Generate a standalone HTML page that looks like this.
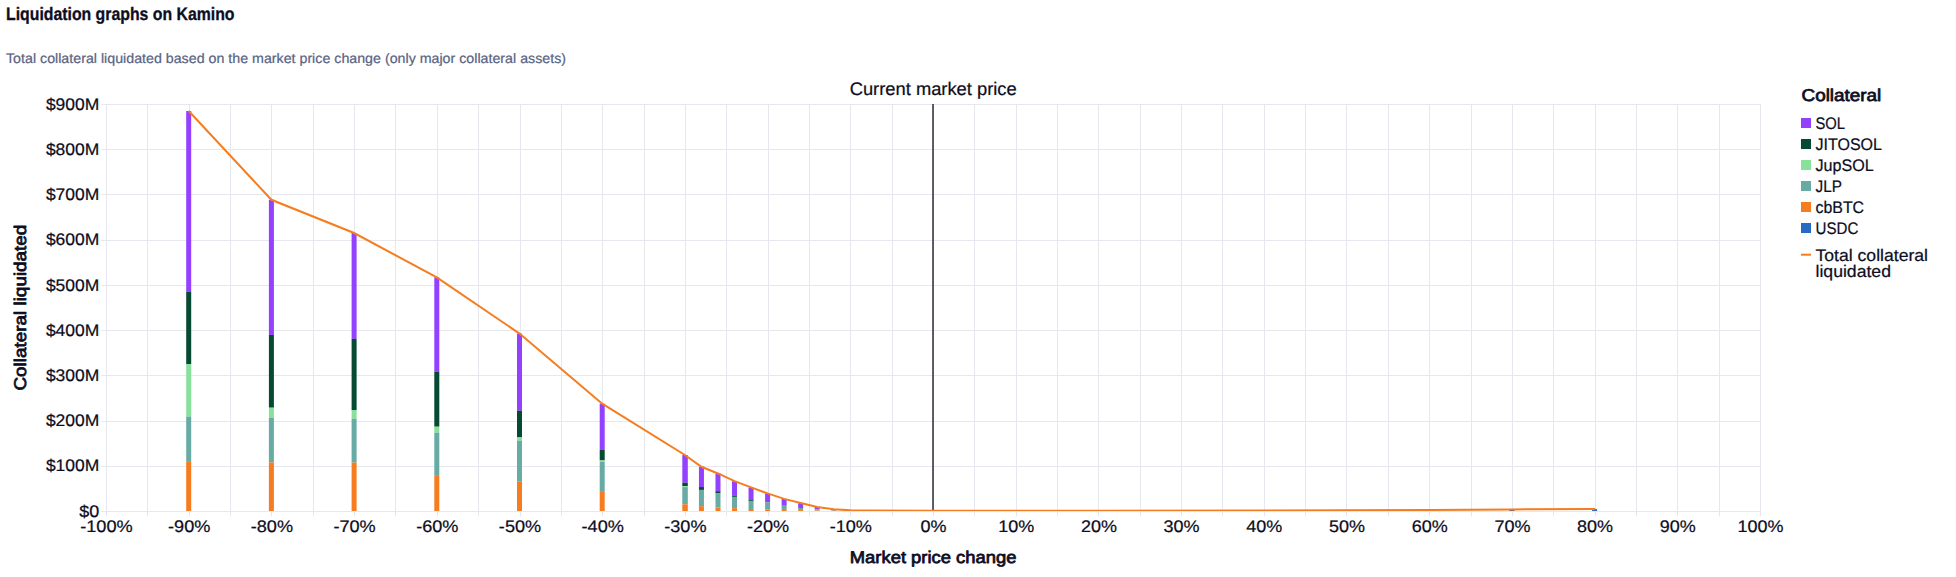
<!DOCTYPE html>
<html lang="en"><head><meta charset="utf-8"><title>Liquidation graphs on Kamino</title>
<style>
html,body{margin:0;padding:0;background:#fff;}
body{width:1956px;height:577px;overflow:hidden;font-family:"Liberation Sans",sans-serif;}
svg{display:block;position:absolute;left:0;top:0}
text{font-family:"Liberation Sans",sans-serif;text-rendering:geometricPrecision;fill:#0D0D22;stroke:#0D0D22;stroke-width:0.22px}
.ax{font-size:16.7px}
.at{font-size:17px}
.lg{font-size:16.8px}
.lt{font-size:16.8px}
.b{font-weight:bold;stroke-width:0.3px}
.sb{stroke-width:0.75px;stroke-linejoin:round}
</style></head><body>
<svg width="1956" height="577" viewBox="0 0 1956 577">

<text class="b" x="6" y="19.7" font-size="18" textLength="228.5" lengthAdjust="spacingAndGlyphs">Liquidation graphs on Kamino</text>
<text x="6" y="62.7" font-size="13.8" style="fill:#5A6483;stroke:#5A6483" textLength="560" lengthAdjust="spacingAndGlyphs">Total collateral liquidated based on the market price change (only major collateral assets)</text>
<path d="M106.5 104V516.5M147.5 104V516.5M189.5 104V516.5M230.5 104V516.5M271.5 104V516.5M313.5 104V516.5M354.5 104V516.5M395.5 104V516.5M437.5 104V516.5M478.5 104V516.5M520.5 104V516.5M561.5 104V516.5M602.5 104V516.5M644.5 104V516.5M685.5 104V516.5M726.5 104V516.5M768.5 104V516.5M809.5 104V516.5M850.5 104V516.5M892.5 104V516.5M933.5 104V516.5M974.5 104V516.5M1016.5 104V516.5M1057.5 104V516.5M1098.5 104V516.5M1140.5 104V516.5M1181.5 104V516.5M1222.5 104V516.5M1264.5 104V516.5M1305.5 104V516.5M1346.5 104V516.5M1388.5 104V516.5M1429.5 104V516.5M1471.5 104V516.5M1512.5 104V516.5M1553.5 104V516.5M1595.5 104V516.5M1636.5 104V516.5M1677.5 104V516.5M1719.5 104V516.5M1760.5 104V516.5M101.4 104.5H1761M101.4 149.5H1761M101.4 194.5H1761M101.4 240.5H1761M101.4 285.5H1761M101.4 330.5H1761M101.4 375.5H1761M101.4 421.5H1761M101.4 466.5H1761M101.4 511.5H1761" stroke="#E6E7EF" stroke-width="1" fill="none"/>
<defs><clipPath id="cp"><rect x="106" y="104" width="1654" height="407"/></clipPath></defs><g clip-path="url(#cp)">
<rect x="186.20" y="111.00" width="5" height="180.70" fill="#9340FF"/>
<rect x="186.20" y="291.70" width="5" height="72.40" fill="#064A33"/>
<rect x="186.20" y="364.10" width="5" height="52.60" fill="#88E19B"/>
<rect x="186.20" y="416.70" width="5" height="44.40" fill="#68ABA5"/>
<rect x="186.20" y="461.10" width="5" height="49.90" fill="#F57D1F"/>
<rect x="268.90" y="199.80" width="5" height="135.10" fill="#9340FF"/>
<rect x="268.90" y="334.90" width="5" height="72.80" fill="#064A33"/>
<rect x="268.90" y="407.70" width="5" height="10.20" fill="#88E19B"/>
<rect x="268.90" y="417.90" width="5" height="44.50" fill="#68ABA5"/>
<rect x="268.90" y="462.40" width="5" height="48.60" fill="#F57D1F"/>
<rect x="351.60" y="233.00" width="5" height="105.90" fill="#9340FF"/>
<rect x="351.60" y="338.90" width="5" height="71.10" fill="#064A33"/>
<rect x="351.60" y="410.00" width="5" height="8.70" fill="#88E19B"/>
<rect x="351.60" y="418.70" width="5" height="43.90" fill="#68ABA5"/>
<rect x="351.60" y="462.60" width="5" height="48.40" fill="#F57D1F"/>
<rect x="434.30" y="277.40" width="5" height="94.20" fill="#9340FF"/>
<rect x="434.30" y="371.60" width="5" height="55.10" fill="#064A33"/>
<rect x="434.30" y="426.70" width="5" height="6.00" fill="#88E19B"/>
<rect x="434.30" y="432.70" width="5" height="42.40" fill="#68ABA5"/>
<rect x="434.30" y="475.10" width="5" height="35.90" fill="#F57D1F"/>
<rect x="517.00" y="333.60" width="5" height="77.10" fill="#9340FF"/>
<rect x="517.00" y="410.70" width="5" height="26.70" fill="#064A33"/>
<rect x="517.00" y="437.40" width="5" height="3.30" fill="#88E19B"/>
<rect x="517.00" y="440.70" width="5" height="40.60" fill="#68ABA5"/>
<rect x="517.00" y="481.30" width="5" height="29.70" fill="#F57D1F"/>
<rect x="599.70" y="403.70" width="5" height="46.20" fill="#9340FF"/>
<rect x="599.70" y="449.90" width="5" height="10.50" fill="#064A33"/>
<rect x="599.70" y="460.40" width="5" height="1.20" fill="#88E19B"/>
<rect x="599.70" y="461.60" width="5" height="29.50" fill="#68ABA5"/>
<rect x="599.70" y="491.10" width="5" height="19.90" fill="#F57D1F"/>
<rect x="682.30" y="455.00" width="5.5" height="27.80" fill="#9340FF"/>
<rect x="682.30" y="482.80" width="5.5" height="3.40" fill="#064A33"/>
<rect x="682.30" y="486.20" width="5.5" height="0.90" fill="#88E19B"/>
<rect x="682.30" y="487.10" width="5.5" height="17.20" fill="#68ABA5"/>
<rect x="682.30" y="504.30" width="5.5" height="6.70" fill="#F57D1F"/>
<rect x="698.94" y="466.80" width="5" height="20.25" fill="#9340FF"/>
<rect x="698.94" y="487.05" width="5" height="2.85" fill="#064A33"/>
<rect x="698.94" y="489.90" width="5" height="16.25" fill="#68ABA5"/>
<rect x="698.94" y="506.15" width="5" height="4.85" fill="#F57D1F"/>
<rect x="715.48" y="473.45" width="5" height="17.75" fill="#9340FF"/>
<rect x="715.48" y="491.20" width="5" height="2.20" fill="#064A33"/>
<rect x="715.48" y="493.40" width="5" height="14.00" fill="#68ABA5"/>
<rect x="715.48" y="507.40" width="5" height="3.60" fill="#F57D1F"/>
<rect x="732.02" y="481.20" width="5" height="14.70" fill="#9340FF"/>
<rect x="732.02" y="495.90" width="5" height="1.00" fill="#064A33"/>
<rect x="732.02" y="496.90" width="5" height="0.10" fill="#88E19B"/>
<rect x="732.02" y="497.00" width="5" height="11.15" fill="#68ABA5"/>
<rect x="732.02" y="508.15" width="5" height="2.85" fill="#F57D1F"/>
<rect x="748.56" y="487.40" width="5" height="12.60" fill="#9340FF"/>
<rect x="748.56" y="500.00" width="5" height="0.90" fill="#064A33"/>
<rect x="748.56" y="500.90" width="5" height="0.10" fill="#88E19B"/>
<rect x="748.56" y="501.00" width="5" height="8.00" fill="#68ABA5"/>
<rect x="748.56" y="509.00" width="5" height="2.00" fill="#F57D1F"/>
<rect x="765.10" y="493.40" width="5" height="8.90" fill="#9340FF"/>
<rect x="765.10" y="502.30" width="5" height="0.20" fill="#064A33"/>
<rect x="765.10" y="502.50" width="5" height="7.10" fill="#68ABA5"/>
<rect x="765.10" y="509.60" width="5" height="1.40" fill="#F57D1F"/>
<rect x="781.64" y="498.90" width="5" height="6.80" fill="#9340FF"/>
<rect x="781.64" y="505.70" width="5" height="0.10" fill="#064A33"/>
<rect x="781.64" y="505.80" width="5" height="4.10" fill="#68ABA5"/>
<rect x="781.64" y="509.90" width="5" height="1.10" fill="#F57D1F"/>
<rect x="798.18" y="503.00" width="5" height="5.00" fill="#9340FF"/>
<rect x="798.18" y="508.00" width="5" height="2.10" fill="#68ABA5"/>
<rect x="798.18" y="510.10" width="5" height="0.90" fill="#F57D1F"/>
<rect x="814.72" y="507.00" width="5" height="2.40" fill="#9340FF"/>
<rect x="814.72" y="509.40" width="5" height="1.10" fill="#68ABA5"/>
<rect x="814.72" y="510.50" width="5" height="0.50" fill="#F57D1F"/>
<rect x="831.26" y="509.30" width="5" height="1.00" fill="#9340FF"/>
<rect x="831.26" y="510.30" width="5" height="0.50" fill="#68ABA5"/>
<rect x="831.26" y="510.80" width="5" height="0.20" fill="#F57D1F"/>
<rect x="847.80" y="510.30" width="5" height="0.40" fill="#9340FF"/>
<rect x="847.80" y="510.70" width="5" height="0.20" fill="#68ABA5"/>
<rect x="847.80" y="510.90" width="5" height="0.10" fill="#F57D1F"/>
<rect x="1344.00" y="510.30" width="5" height="0.70" fill="#2769C3"/>
<rect x="1426.70" y="509.95" width="5" height="1.05" fill="#2769C3"/>
<rect x="1509.40" y="509.40" width="5" height="1.60" fill="#2769C3"/>
<rect x="1592.10" y="509.10" width="5" height="1.90" fill="#2769C3"/>
</g>
<path d="M933 104V511" stroke="#0D0D22" stroke-opacity="0.66" stroke-width="2"/>
<path clip-path="url(#cp)" d="M188.70 111.00 L271.40 199.80 L354.10 233.00 L436.80 277.40 L519.50 333.60 L602.20 403.70 L684.90 455.00 L701.44 466.80 L717.98 473.45 L734.52 481.20 L751.06 487.40 L767.60 493.40 L784.14 498.90 L800.68 503.00 L817.22 507.00 L833.76 509.30 L850.30 510.30 L866.84 510.60 L933.00 510.75 L1098.40 510.65 L1263.80 510.50 L1346.50 510.30 L1429.20 509.95 L1511.90 509.40 L1595.30 509.10" stroke="#F57D1F" stroke-width="2" fill="none" stroke-linejoin="miter"/>
<text class="ax" x="99.3" y="109.6" text-anchor="end" textLength="53.4" lengthAdjust="spacingAndGlyphs">$900M</text>
<text class="ax" x="99.3" y="154.8" text-anchor="end" textLength="53.4" lengthAdjust="spacingAndGlyphs">$800M</text>
<text class="ax" x="99.3" y="200.0" text-anchor="end" textLength="53.4" lengthAdjust="spacingAndGlyphs">$700M</text>
<text class="ax" x="99.3" y="245.3" text-anchor="end" textLength="53.4" lengthAdjust="spacingAndGlyphs">$600M</text>
<text class="ax" x="99.3" y="290.5" text-anchor="end" textLength="53.4" lengthAdjust="spacingAndGlyphs">$500M</text>
<text class="ax" x="99.3" y="335.7" text-anchor="end" textLength="53.4" lengthAdjust="spacingAndGlyphs">$400M</text>
<text class="ax" x="99.3" y="380.9" text-anchor="end" textLength="53.4" lengthAdjust="spacingAndGlyphs">$300M</text>
<text class="ax" x="99.3" y="426.2" text-anchor="end" textLength="53.4" lengthAdjust="spacingAndGlyphs">$200M</text>
<text class="ax" x="99.3" y="471.4" text-anchor="end" textLength="53.4" lengthAdjust="spacingAndGlyphs">$100M</text>
<text class="ax" x="99.3" y="516.6" text-anchor="end" textLength="20.0" lengthAdjust="spacingAndGlyphs">$0</text>
<text class="ax" x="106.5" y="531.6" text-anchor="middle" textLength="52.6" lengthAdjust="spacingAndGlyphs">-100%</text>
<text class="ax" x="189.2" y="531.6" text-anchor="middle" textLength="42.3" lengthAdjust="spacingAndGlyphs">-90%</text>
<text class="ax" x="271.9" y="531.6" text-anchor="middle" textLength="42.3" lengthAdjust="spacingAndGlyphs">-80%</text>
<text class="ax" x="354.6" y="531.6" text-anchor="middle" textLength="42.3" lengthAdjust="spacingAndGlyphs">-70%</text>
<text class="ax" x="437.3" y="531.6" text-anchor="middle" textLength="42.3" lengthAdjust="spacingAndGlyphs">-60%</text>
<text class="ax" x="520.0" y="531.6" text-anchor="middle" textLength="42.3" lengthAdjust="spacingAndGlyphs">-50%</text>
<text class="ax" x="602.7" y="531.6" text-anchor="middle" textLength="42.3" lengthAdjust="spacingAndGlyphs">-40%</text>
<text class="ax" x="685.4" y="531.6" text-anchor="middle" textLength="42.3" lengthAdjust="spacingAndGlyphs">-30%</text>
<text class="ax" x="768.1" y="531.6" text-anchor="middle" textLength="42.3" lengthAdjust="spacingAndGlyphs">-20%</text>
<text class="ax" x="850.8" y="531.6" text-anchor="middle" textLength="42.3" lengthAdjust="spacingAndGlyphs">-10%</text>
<text class="ax" x="933.5" y="531.6" text-anchor="middle" textLength="26.0" lengthAdjust="spacingAndGlyphs">0%</text>
<text class="ax" x="1016.2" y="531.6" text-anchor="middle" textLength="36.0" lengthAdjust="spacingAndGlyphs">10%</text>
<text class="ax" x="1098.9" y="531.6" text-anchor="middle" textLength="36.0" lengthAdjust="spacingAndGlyphs">20%</text>
<text class="ax" x="1181.6" y="531.6" text-anchor="middle" textLength="36.0" lengthAdjust="spacingAndGlyphs">30%</text>
<text class="ax" x="1264.3" y="531.6" text-anchor="middle" textLength="36.0" lengthAdjust="spacingAndGlyphs">40%</text>
<text class="ax" x="1347.0" y="531.6" text-anchor="middle" textLength="36.0" lengthAdjust="spacingAndGlyphs">50%</text>
<text class="ax" x="1429.7" y="531.6" text-anchor="middle" textLength="36.0" lengthAdjust="spacingAndGlyphs">60%</text>
<text class="ax" x="1512.4" y="531.6" text-anchor="middle" textLength="36.0" lengthAdjust="spacingAndGlyphs">70%</text>
<text class="ax" x="1595.1" y="531.6" text-anchor="middle" textLength="36.0" lengthAdjust="spacingAndGlyphs">80%</text>
<text class="ax" x="1677.8" y="531.6" text-anchor="middle" textLength="36.0" lengthAdjust="spacingAndGlyphs">90%</text>
<text class="ax" x="1760.5" y="531.6" text-anchor="middle" textLength="46.0" lengthAdjust="spacingAndGlyphs">100%</text>
<text class="at sb" x="933.1" y="563.3" text-anchor="middle" textLength="166.6" lengthAdjust="spacingAndGlyphs">Market price change</text>
<text class="at sb" transform="translate(25.7,307.6) rotate(-90)" text-anchor="middle" textLength="166" lengthAdjust="spacingAndGlyphs">Collateral liquidated</text>
<text x="933.2" y="94.7" text-anchor="middle" font-size="18.2" textLength="167" lengthAdjust="spacingAndGlyphs">Current market price</text>
<text class="sb" x="1801.6" y="101.4" font-size="17.2" textLength="79.6" lengthAdjust="spacingAndGlyphs">Collateral</text>
<rect x="1801" y="118" width="10" height="10" fill="#9340FF"/>
<text class="lg" x="1815.5" y="128.7" textLength="29.6" lengthAdjust="spacingAndGlyphs">SOL</text>
<rect x="1801" y="139" width="10" height="10" fill="#064A33"/>
<text class="lg" x="1815.5" y="149.7" textLength="66.5" lengthAdjust="spacingAndGlyphs">JITOSOL</text>
<rect x="1801" y="160" width="10" height="10" fill="#88E19B"/>
<text class="lg" x="1815.5" y="170.7" textLength="58.2" lengthAdjust="spacingAndGlyphs">JupSOL</text>
<rect x="1801" y="181" width="10" height="10" fill="#68ABA5"/>
<text class="lg" x="1815.5" y="191.7" textLength="26.4" lengthAdjust="spacingAndGlyphs">JLP</text>
<rect x="1801" y="202" width="10" height="10" fill="#F57D1F"/>
<text class="lg" x="1815.5" y="212.7" textLength="48.6" lengthAdjust="spacingAndGlyphs">cbBTC</text>
<rect x="1801" y="223" width="10" height="10" fill="#2769C3"/>
<text class="lg" x="1815.5" y="233.7" textLength="42.8" lengthAdjust="spacingAndGlyphs">USDC</text>
<path d="M1801 254.7H1811" stroke="#F57D1F" stroke-width="2"/>
<text class="lt" x="1815.5" y="260.6" textLength="112.5" lengthAdjust="spacingAndGlyphs">Total collateral</text>
<text class="lt" x="1815.5" y="277.2" textLength="75.5" lengthAdjust="spacingAndGlyphs">liquidated</text>
</svg></body></html>
